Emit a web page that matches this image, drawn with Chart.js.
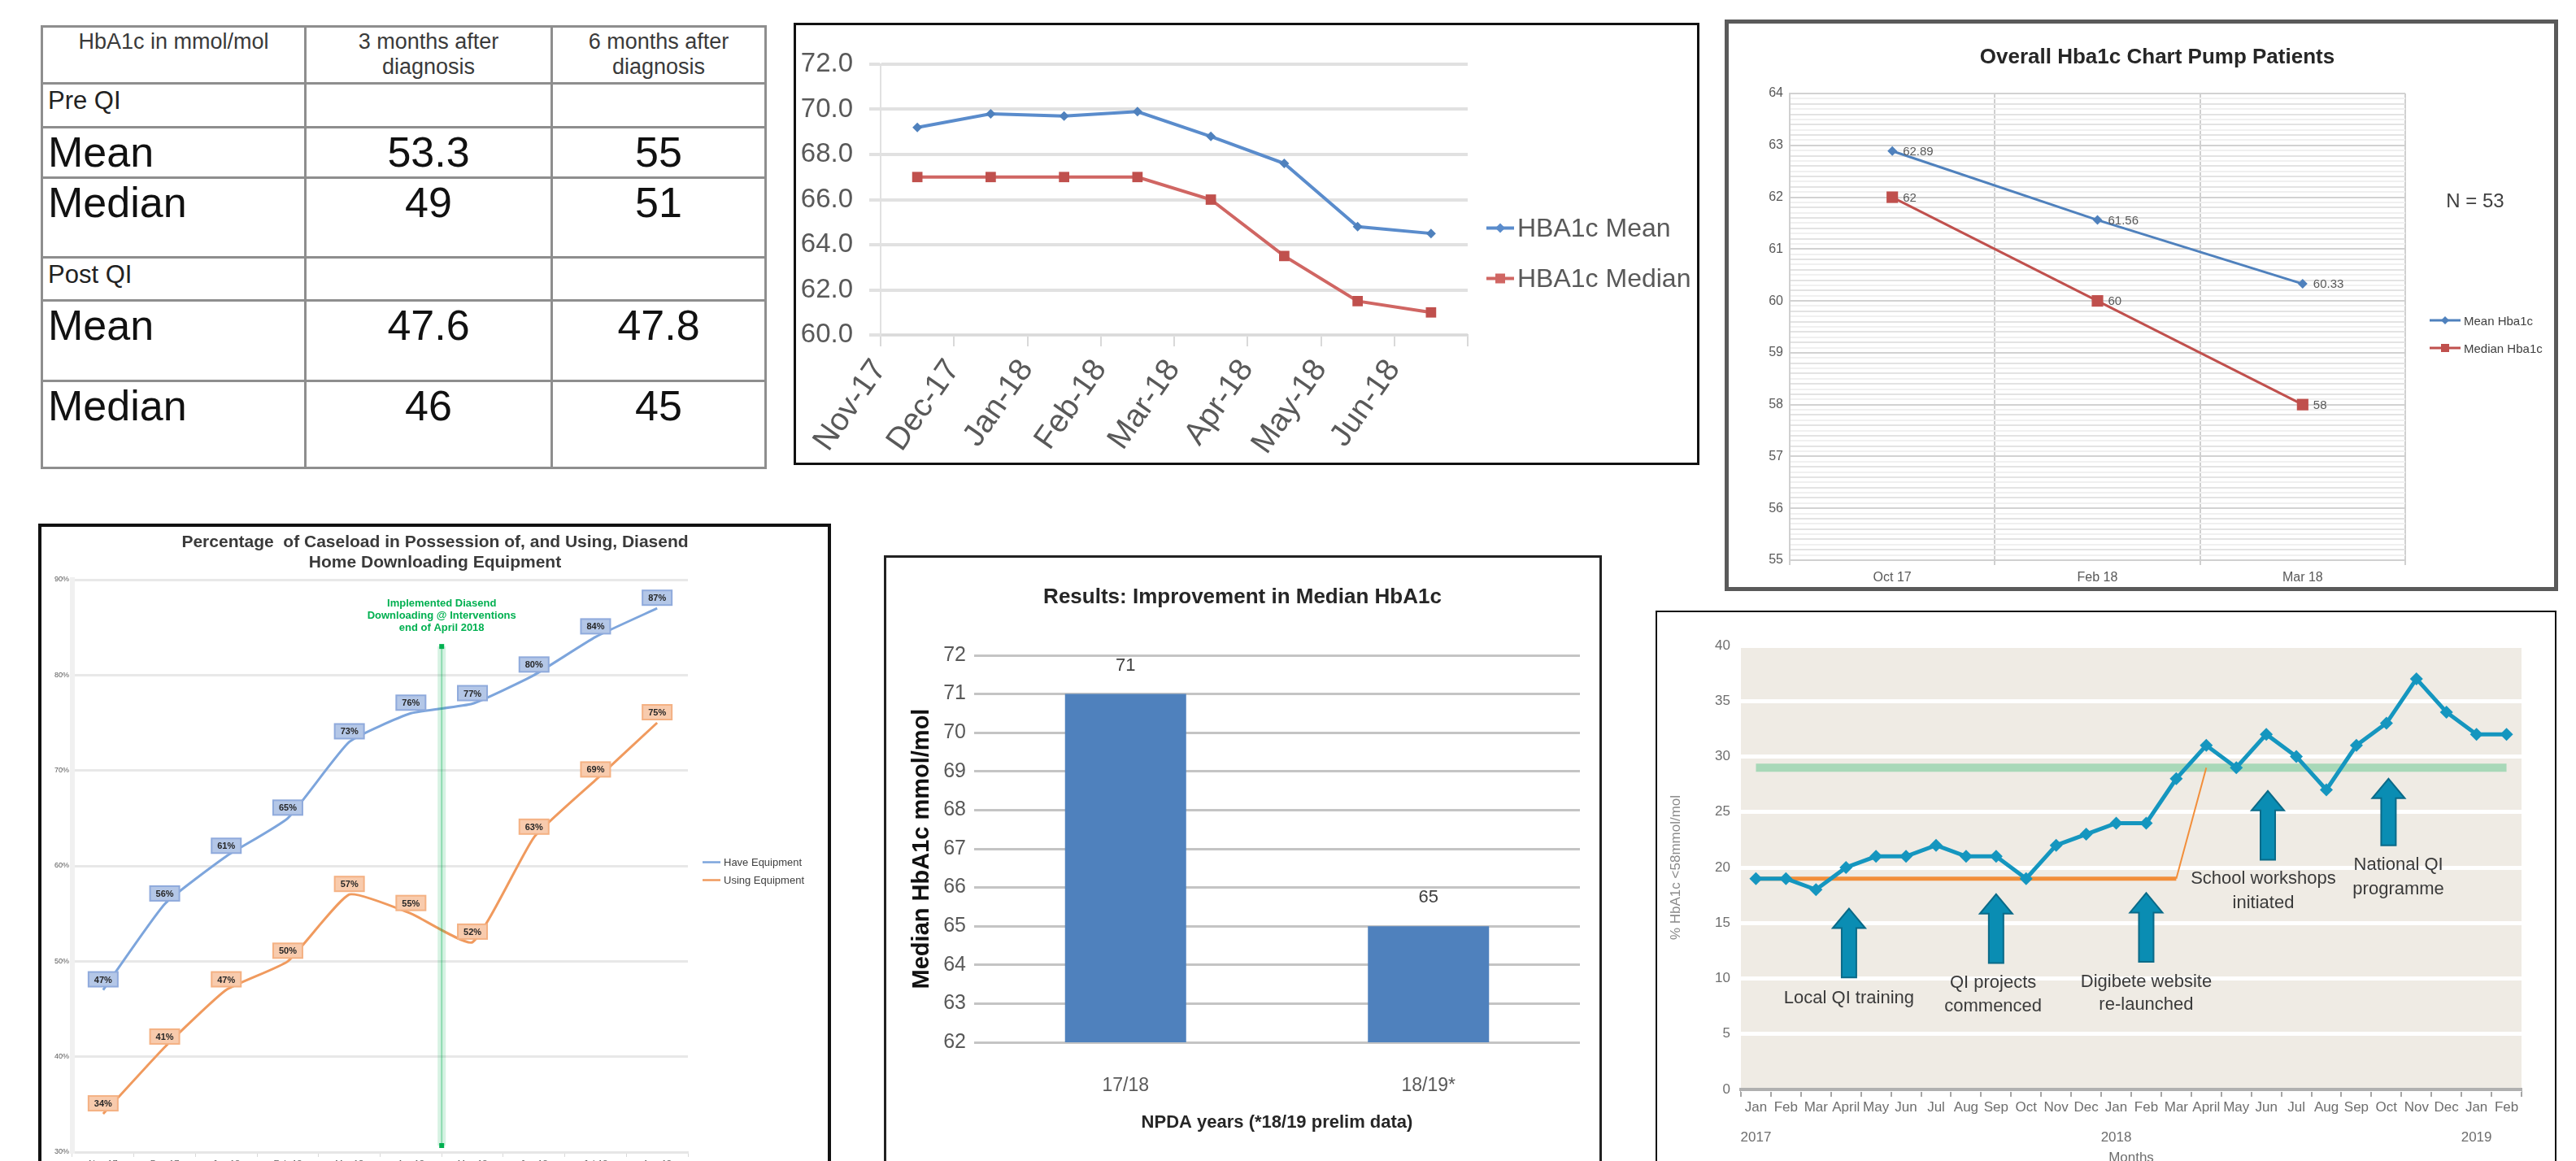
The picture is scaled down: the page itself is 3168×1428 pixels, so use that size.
<!DOCTYPE html>
<html>
<head>
<meta charset="utf-8">
<title>HbA1c quality improvement charts</title>
<script src="https://cdn.jsdelivr.net/npm/chart.js@4.4.1/dist/chart.umd.min.js"></script>
<style>
  html, body { margin: 0; padding: 0; }
  body { width: 3168px; height: 1428px; overflow: hidden; position: relative; background: #fff;
         font-family: "Liberation Sans", Arial, sans-serif; color: #262626; }
  .box { position: absolute; box-sizing: border-box; background: #fff; }
  canvas { position: absolute; }
  .txt { position: absolute; white-space: nowrap; text-align: center; transform: translate(-50%, -50%); }
  .legend { position: absolute; display: flex; align-items: center; white-space: nowrap; }
  .legend svg { margin-right: 4px; }
  table { position: absolute; border-collapse: collapse; color: #111; }
  td { border: 3px solid #8e8e8e; padding: 2px 6px; vertical-align: top; line-height: 1.15; }
</style>
</head>
<body>
<table id="hbTable" style="left:50px;top:31px"></table>

<div class="box" style="left:976px;top:28px;width:1114px;height:544px;border:3px solid #111"></div>
<canvas id="trendChart" style="left:979px;top:31px" width="1108" height="538"></canvas>

<div class="box" style="left:2121px;top:24px;width:1025px;height:703px;border:5px solid #5a5a5a"></div>
<canvas id="pumpChart" style="left:2126px;top:29px" width="1015" height="693"></canvas>

<div class="box" style="left:47px;top:644px;width:975px;height:830px;border:4px solid #111"></div>
<canvas id="diasendChart" style="left:51px;top:648px" width="967" height="820"></canvas>

<div class="box" style="left:1087px;top:683px;width:883px;height:800px;border:3px solid #222"></div>
<canvas id="npdaChart" style="left:1090px;top:686px" width="877" height="780"></canvas>

<div class="box" style="left:2036px;top:751px;width:1108px;height:760px;border:2px solid #111"></div>
<canvas id="qiChart" style="left:2038px;top:753px" width="1104" height="720"></canvas>

<script>
// ---------- table: HbA1c after diagnosis ----------
const tableHeader = ["HbA1c in mmol/mol", "3 months after diagnosis", "6 months after diagnosis"];
const tableRows = [
  ["Pre QI", "", ""],
  ["Mean", "53.3", "55"],
  ["Median", "49", "51"],
  ["Post QI", "", ""],
  ["Mean", "47.6", "47.8"],
  ["Median", "46", "45"]
];

// ---------- monthly HbA1c mean / median ----------
const trendMonths = ["Nov-17", "Dec-17", "Jan-18", "Feb-18", "Mar-18", "Apr-18", "May-18", "Jun-18"];
const trendMean = [69.2, 69.8, 69.7, 69.9, 68.8, 67.6, 64.8, 64.5];
const trendMedian = [67, 67, 67, 67, 66, 63.5, 61.5, 61];
const trendNames = ["HBA1c Mean", "HBA1c Median"];

// ---------- pump patients ----------
const pumpDates = ["Oct 17", "Feb 18", "Mar 18"];
const pumpMean = [62.89, 61.56, 60.33];
const pumpMedian = [62, 60, 58];
const pumpNames = ["Mean Hba1c", "Median Hba1c"];

// ---------- Diasend home downloading ----------
const diasendMonths = ["Nov-17", "Dec-17", "Jan-18", "Feb-18", "Mar-18", "Apr-18", "May-18", "Jun-18", "Jul-18", "Aug-18"];
const haveEquipment = [47, 56, 61, 65, 73, 76, 77, 80, 84, 87];
const usingEquipment = [34, 41, 47, 50, 57, 55, 52, 63, 69, 75];
const diasendNames = ["Have Equipment", "Using Equipment"];

// ---------- NPDA median ----------
const npdaYears = ["17/18", "18/19*"];
const npdaMedian = [71, 65];

// ---------- % HbA1c < 58 by month ----------
const qiMonths = ["Jan", "Feb", "Mar", "April", "May", "Jun", "Jul", "Aug", "Sep", "Oct", "Nov", "Dec",
                  "Jan", "Feb", "Mar", "April", "May", "Jun", "Jul", "Aug", "Sep", "Oct", "Nov", "Dec",
                  "Jan", "Feb"];
const qiYears = ["2017", "", "", "", "", "", "", "", "", "", "", "",
                 "2018", "", "", "", "", "", "", "", "", "", "", "",
                 "2019", ""];
const qiPercent = [19, 19, 18, 20, 21, 21, 22, 21, 21, 19, 22, 23, 24, 24, 28, 31, 29, 32, 30, 27, 31, 33, 37, 34, 32, 32];
const qiMedian = [19, 19, 19, 19, 19, 19, 19, 19, 19, 19, 19, 19, 19, 19, 19, 29,
                  null, null, null, null, null, null, null, null, null, null];
const qiTarget = [29, 29, 29, 29, 29, 29, 29, 29, 29, 29, 29, 29, 29, 29, 29, 29, 29, 29, 29, 29, 29, 29, 29, 29, 29, 29];
const qiEventText = [["Local QI training"], ["QI projects", "commenced"], ["Digibete website", "re-launched"],
                     ["School workshops", "initiated"], ["National QI", "programme"]];
const qiEventMonth = [3, 8, 13, 17, 21];

const FONT = "'Liberation Sans', Arial, sans-serif";
Chart.defaults.font.family = FONT;
Chart.defaults.animation = false;
Chart.defaults.responsive = false;
Chart.defaults.devicePixelRatio = 1;
Chart.defaults.events = [];
Chart.defaults.plugins.legend.display = false;
Chart.defaults.plugins.tooltip.enabled = false;

// ---------- helpers for html text ----------
function addText(html, cx, cy, css) {
  const d = document.createElement("div");
  d.className = "txt";
  d.innerHTML = html;
  d.style.left = cx + "px";
  d.style.top = cy + "px";
  d.style.cssText += css;
  document.body.appendChild(d);
}

function addLegend(left, centers, names, colors, shapes, fontSize, swatchW, lineW, markR, textColor) {
  names.forEach((name, i) => {
    const h = Math.round(fontSize * 1.6), mid = h / 2, c = swatchW / 2;
    let marker = "";
    if (shapes[i] === "rect") {
      marker = `<rect x="${c - markR}" y="${mid - markR}" width="${2 * markR}" height="${2 * markR}" fill="${colors[i]}"/>`;
    } else if (shapes[i] === "diamond") {
      marker = `<polygon points="${c},${mid - markR} ${c + markR},${mid} ${c},${mid + markR} ${c - markR},${mid}" fill="${colors[i]}"/>`;
    }
    const row = document.createElement("div");
    row.className = "legend";
    row.style.left = left + "px";
    row.style.top = (centers[i] - mid) + "px";
    row.style.height = h + "px";
    row.style.fontSize = fontSize + "px";
    row.style.color = textColor;
    row.innerHTML = `<svg width="${swatchW}" height="${h}"><line x1="0" y1="${mid}" x2="${swatchW}" y2="${mid}" stroke="${colors[i]}" stroke-width="${lineW}"/>${marker}</svg><span>${name}</span>`;
    document.body.appendChild(row);
  });
}

// ---------- table ----------
const table = document.getElementById("hbTable");
const rowHeights = [70, 54, 57, 98, 53, 99, 107];
const colWidths = [324, 303, 263];
[tableHeader].concat(tableRows).forEach((row, r) => {
  const tr = table.insertRow();
  tr.style.height = rowHeights[r] + "px";
  row.forEach((cell, c) => {
    const td = tr.insertCell();
    td.style.width = (colWidths[c] - 15) + "px";
    td.textContent = cell;
    if (r === 0) {
      td.style.fontSize = "27px";
      td.style.textAlign = "center";
      td.style.color = "#3a3a3a";
    } else if (row[1] === "") {
      td.style.fontSize = "31px";
      td.style.color = "#222";
    } else {
      td.style.fontSize = "52px";
      td.style.lineHeight = "1.05";
      td.style.textAlign = c === 0 ? "left" : "center";
    }
  });
});

// ---------- chart 1: monthly mean / median ----------
new Chart(document.getElementById("trendChart"), {
  type: "line",
  data: {
    labels: trendMonths,
    datasets: [
      { label: trendNames[0], data: trendMean, borderColor: "#5a8ccc", backgroundColor: "#4f81bd",
        borderWidth: 4, pointStyle: "rectRot", pointRadius: 6, pointBorderWidth: 0 },
      { label: trendNames[1], data: trendMedian, borderColor: "#d06663", backgroundColor: "#c0504d",
        borderWidth: 4, pointStyle: "rect", pointRadius: 9, pointBorderWidth: 0 }
    ]
  },
  options: {
    layout: { padding: { left: 6, right: 282, top: 48, bottom: 0 } },
    scales: {
      x: {
        offset: true,
        grid: { drawOnChartArea: false, offset: true, color: "#d9d9d9", lineWidth: 2, tickLength: 14 },
        border: { color: "#d9d9d9", width: 2 },
        ticks: { font: { size: 39 }, color: "#595959", minRotation: 55, maxRotation: 55, padding: 8, labelOffset: -46 },
        afterFit(s) { s.height = 157; }
      },
      y: {
        min: 60, max: 72,
        ticks: { stepSize: 2, callback: v => v.toFixed(1), font: { size: 33 }, color: "#595959", padding: 20 },
        grid: { color: "#e1e1e1", lineWidth: 4, tickLength: 14 },
        border: { color: "#e1e1e1", width: 2 },
        afterFit(s) { s.width = 98; }
      }
    }
  }
});
addLegend(1828, [280, 342], trendNames, ["#5a8ccc", "#d06663"], ["diamond", "rect"], 32, 34, 4, 6, "#595959");

// ---------- chart 2: pump patients ----------
const pumpLabelsPlugin = {
  id: "pumpLabels",
  afterDatasetsDraw(chart) {
    const ctx = chart.ctx;
    ctx.save();
    ctx.font = "15px " + FONT;
    ctx.fillStyle = "#595959";
    ctx.textBaseline = "middle";
    chart.data.datasets.forEach((ds, i) => {
      chart.getDatasetMeta(i).data.forEach((pt, j) => {
        ctx.fillText(String(ds.data[j]), pt.x + 13, pt.y + 1);
      });
    });
    ctx.restore();
  }
};
const isWhole = v => Math.abs(v - Math.round(v)) < 1e-6;
new Chart(document.getElementById("pumpChart"), {
  type: "line",
  data: {
    labels: pumpDates,
    datasets: [
      { label: pumpNames[0], data: pumpMean, borderColor: "#4f81bd", backgroundColor: "#4f81bd",
        borderWidth: 3, pointStyle: "rectRot", pointRadius: 6, pointBorderWidth: 0 },
      { label: pumpNames[1], data: pumpMedian, borderColor: "#c0504d", backgroundColor: "#c0504d",
        borderWidth: 3, pointStyle: "rect", pointRadius: 10, pointBorderWidth: 0 }
    ]
  },
  options: {
    layout: { padding: { left: 8, right: 183, top: 86, bottom: 0 } },
    scales: {
      x: {
        offset: true,
        grid: { offset: true, color: "#d0d0d0", lineWidth: 2, tickLength: 6 },
        border: { color: "#d0d0d0", width: 2 },
        ticks: { font: { size: 16 }, color: "#595959", padding: 6 },
        afterFit(s) { s.height = 33; }
      },
      y: {
        min: 55, max: 64,
        ticks: { stepSize: 0.1, autoSkip: false, font: { size: 16 }, color: "#595959", padding: 8,
                 callback: v => isWhole(v) ? String(Math.round(v)) : "" },
        grid: {
          drawTicks: false, lineWidth: 2,
          color: c => isWhole(c.tick.value) ? "#d2d2d2" : (Math.round(c.tick.value * 10) % 2 === 0 ? "#e3e3e3" : "#f0f0f0")
        },
        border: { color: "#d0d0d0", width: 2 },
        afterFit(s) { s.width = 67; }
      }
    }
  },
  plugins: [pumpLabelsPlugin]
});
addText("Overall Hba1c Chart Pump Patients", 2653, 69, "font-weight:bold;font-size:26px;color:#262626");
addText("N = 53", 3044, 247, "font-size:24px;color:#404040");
addLegend(2988, [394, 428], pumpNames, ["#4f81bd", "#c0504d"], ["diamond", "rect"], 15, 38, 3, 5, "#404040");

// ---------- chart 3: Diasend equipment ----------
const diasendLabelsPlugin = {
  id: "diasendLabels",
  afterDatasetsDraw(chart) {
    const ctx = chart.ctx;
    ctx.save();
    ctx.font = "bold 11px " + FONT;
    ctx.textAlign = "center";
    ctx.textBaseline = "middle";
    const fills = ["#b4c7e7", "#f8cbad"], edges = ["#8faadc", "#f4b183"];
    chart.data.datasets.forEach((ds, i) => {
      chart.getDatasetMeta(i).data.forEach((pt, j) => {
        const cx = pt.x, cy = pt.y - 13;
        ctx.fillStyle = fills[i];
        ctx.fillRect(cx - 18, cy - 9, 36, 18);
        ctx.strokeStyle = edges[i];
        ctx.lineWidth = 2;
        ctx.strokeRect(cx - 18, cy - 9, 36, 18);
        ctx.fillStyle = "#262626";
        ctx.fillText(ds.data[j] + "%", cx, cy + 1);
      });
    });
    ctx.restore();
  }
};
const interventionPlugin = {
  id: "interventionLine",
  afterDatasetsDraw(chart) {
    const { ctx, chartArea, scales: { x, y } } = chart;
    const px = (x.getPixelForValue(5) + x.getPixelForValue(6)) / 2;
    const top = y.getPixelForValue(83);
    const bottom = chartArea.bottom - 8;
    ctx.save();
    ctx.fillStyle = "rgba(0,176,80,0.16)";
    ctx.fillRect(px - 5, top, 10, bottom - top);
    ctx.strokeStyle = "rgba(0,176,80,0.35)";
    ctx.lineWidth = 2;
    ctx.beginPath(); ctx.moveTo(px, top); ctx.lineTo(px, bottom); ctx.stroke();
    ctx.fillStyle = "#00b050";
    ctx.fillRect(px - 3, top - 3, 6, 6);
    ctx.fillRect(px - 3, bottom - 3, 6, 6);
    ctx.font = "bold 13px " + FONT;
    ctx.textAlign = "center";
    ctx.textBaseline = "middle";
    ["Implemented Diasend", "Downloading @ Interventions", "end of April 2018"].forEach((t, k) => {
      ctx.fillText(t, px, top - 53 + k * 15);
    });
    ctx.restore();
  }
};
new Chart(document.getElementById("diasendChart"), {
  type: "line",
  data: {
    labels: diasendMonths,
    datasets: [
      { label: diasendNames[0], data: haveEquipment, borderColor: "#7da5dc", borderWidth: 3, pointRadius: 0, tension: 0.15 },
      { label: diasendNames[1], data: usingEquipment, borderColor: "#f09a5e", borderWidth: 3, pointRadius: 0, tension: 0.15 }
    ]
  },
  options: {
    layout: { padding: { left: 4, right: 172, top: 65, bottom: 0 } },
    scales: {
      x: {
        offset: true,
        grid: { drawOnChartArea: false, offset: true, color: "#d9d9d9", tickLength: 6 },
        border: { color: "#e6e6e6", width: 3 },
        ticks: { font: { size: 11 }, color: "#595959", padding: 2, maxRotation: 0, autoSkip: false },
        afterFit(s) { s.height = 51; }
      },
      y: {
        min: 30, max: 90,
        ticks: { stepSize: 10, callback: v => v + "%", font: { size: 9 }, color: "#595959", padding: 4 },
        grid: { color: "#e8e8e8", lineWidth: 3, drawTicks: false },
        border: { color: "#f0f0f0", width: 6 },
        afterFit(s) { s.width = 34; }
      }
    }
  },
  plugins: [diasendLabelsPlugin, interventionPlugin]
});
addText("Percentage&nbsp; of Caseload in Possession of, and Using, Diasend<br>Home Downloading Equipment", 535, 678,
        "font-weight:bold;font-size:21px;line-height:25px;color:#3a3a3a");
addLegend(864, [1060, 1082], diasendNames, ["#7da5dc", "#f09a5e"], ["none", "none"], 13, 22, 2.5, 0, "#404040");

// ---------- chart 4: NPDA median ----------
const npdaLabelsPlugin = {
  id: "npdaLabels",
  afterDatasetsDraw(chart) {
    const ctx = chart.ctx;
    ctx.save();
    ctx.font = "22px " + FONT;
    ctx.fillStyle = "#404040";
    ctx.textAlign = "center";
    ctx.textBaseline = "middle";
    chart.getDatasetMeta(0).data.forEach((bar, j) => {
      ctx.fillText(String(chart.data.datasets[0].data[j]), bar.x, bar.y - 35);
    });
    ctx.restore();
  }
};
new Chart(document.getElementById("npdaChart"), {
  type: "bar",
  data: {
    labels: npdaYears,
    datasets: [{ label: "Median HbA1c", data: npdaMedian, backgroundColor: "#4f81bd",
                 barPercentage: 0.8, categoryPercentage: 0.5 }]
  },
  options: {
    layout: { padding: { left: 0, right: 24, top: 120, bottom: 0 } },
    scales: {
      x: {
        grid: { display: false },
        border: { display: false },
        ticks: { font: { size: 23 }, color: "#595959", padding: 32 },
        title: { display: true, text: "NPDA years (*18/19 prelim data)", font: { size: 22, weight: "bold" },
                 color: "#262626", padding: { top: 0, bottom: 72 } },
        afterFit(s) { s.height = 184; }
      },
      y: {
        min: 62, max: 72,
        ticks: { stepSize: 1, font: { size: 25 }, color: "#595959", padding: 10 },
        grid: { color: "#c4c4c4", lineWidth: 3, drawTicks: false },
        border: { display: false },
        title: { display: true, text: "Median HbA1c mmol/mol", font: { size: 29, weight: "bold" },
                 color: "#111", padding: { top: 27, bottom: 0 } },
        afterFit(s) { s.width = 108; }
      }
    }
  },
  plugins: [npdaLabelsPlugin]
});
addText("Results: Improvement in Median HbA1c", 1528, 733, "font-weight:bold;font-size:26px;color:#262626");

// ---------- chart 5: % HbA1c < 58 mmol/mol ----------
const plotBackground = {
  id: "plotBackground",
  beforeDraw(chart) {
    const { ctx, chartArea: a } = chart;
    ctx.save();
    ctx.fillStyle = "#efebe4";
    ctx.fillRect(a.left, a.top, a.right - a.left, a.bottom - a.top);
    ctx.restore();
  }
};
// arrow extent and caption placement, in data units (month index, percent)
const qiArrows = [
  { dx: 0.1, from: 10.1, to: 16.3, textX: 3.1, textY: [8.2] },
  { dx: 0, from: 11.4, to: 17.6, textX: 7.9, textY: [9.6, 7.5] },
  { dx: 0, from: 11.5, to: 17.7, textX: 13.0, textY: [9.7, 7.6] },
  { dx: 0.05, from: 20.7, to: 26.9, textX: 16.9, textY: [19.0, 16.8] },
  { dx: 0.07, from: 22.0, to: 28.0, textX: 21.4, textY: [20.2, 18.0] }
];
const qiEventsPlugin = {
  id: "qiEvents",
  afterDatasetsDraw(chart) {
    const { ctx, scales: { x, y } } = chart;
    ctx.save();
    qiEventMonth.forEach((m, i) => {
      const a = qiArrows[i];
      const px = x.getPixelForValue(m + a.dx);
      const tail = y.getPixelForValue(a.from), tip = y.getPixelForValue(a.to);
      const headH = 24, shaftW = 18, headW = 40;
      ctx.beginPath();
      ctx.moveTo(px - shaftW / 2, tail);
      ctx.lineTo(px - shaftW / 2, tip + headH);
      ctx.lineTo(px - headW / 2, tip + headH);
      ctx.lineTo(px, tip);
      ctx.lineTo(px + headW / 2, tip + headH);
      ctx.lineTo(px + shaftW / 2, tip + headH);
      ctx.lineTo(px + shaftW / 2, tail);
      ctx.closePath();
      ctx.fillStyle = "#0a8db3";
      ctx.fill();
      ctx.strokeStyle = "#0a6a88";
      ctx.lineWidth = 2;
      ctx.stroke();
      ctx.font = "22px " + FONT;
      ctx.fillStyle = "#3a3a3a";
      ctx.textAlign = "center";
      ctx.textBaseline = "middle";
      qiEventText[i].forEach((line, k) => {
        ctx.fillText(line, x.getPixelForValue(a.textX), y.getPixelForValue(a.textY[k]));
      });
    });
    ctx.restore();
  }
};
new Chart(document.getElementById("qiChart"), {
  type: "line",
  data: {
    labels: qiMonths.map((m, i) => [m, "", qiYears[i]]),
    datasets: [
      { label: "% HbA1c <58", data: qiPercent, borderColor: "#1596bf", backgroundColor: "#1596bf",
        borderWidth: 5, pointStyle: "rectRot", pointRadius: 8, pointBorderWidth: 0, order: 0 },
      { label: "Median", data: qiMedian, borderColor: "#f28e3a", borderWidth: 5, pointRadius: 0, order: 1,
        segment: { borderWidth: c => c.p0.parsed.y !== c.p1.parsed.y ? 2 : 5 } },
      { label: "Target", data: qiTarget, borderColor: "rgba(160,214,178,0.9)", borderWidth: 10, pointRadius: 0, order: 2 }
    ]
  },
  options: {
    layout: { padding: { left: 0, right: 41, top: 41, bottom: 0 } },
    scales: {
      x: {
        offset: true,
        grid: { drawOnChartArea: false, offset: true, color: "#a6a6a6", lineWidth: 2, tickLength: 9 },
        border: { color: "#b0b0b0", width: 4 },
        ticks: { font: { size: 17, lineHeight: 1.1 }, color: "#6e6e6e", padding: 4, maxRotation: 0, autoSkip: false },
        title: { display: true, text: "Months", font: { size: 17 }, color: "#6e6e6e", padding: { top: 0, bottom: 38 } },
        afterFit(s) { s.height = 133; }
      },
      y: {
        min: 0, max: 40,
        ticks: { stepSize: 5, font: { size: 17 }, color: "#6e6e6e", padding: 13 },
        grid: { color: "#ffffff", lineWidth: 5, drawTicks: false },
        border: { display: false },
        title: { display: true, text: "% HbA1c <58mmol/mol", font: { size: 17 }, color: "#8a8a8a", padding: { top: 13, bottom: 0 } },
        afterFit(s) { s.width = 103; }
      }
    }
  },
  plugins: [plotBackground, qiEventsPlugin]
});
</script>
</body>
</html>
